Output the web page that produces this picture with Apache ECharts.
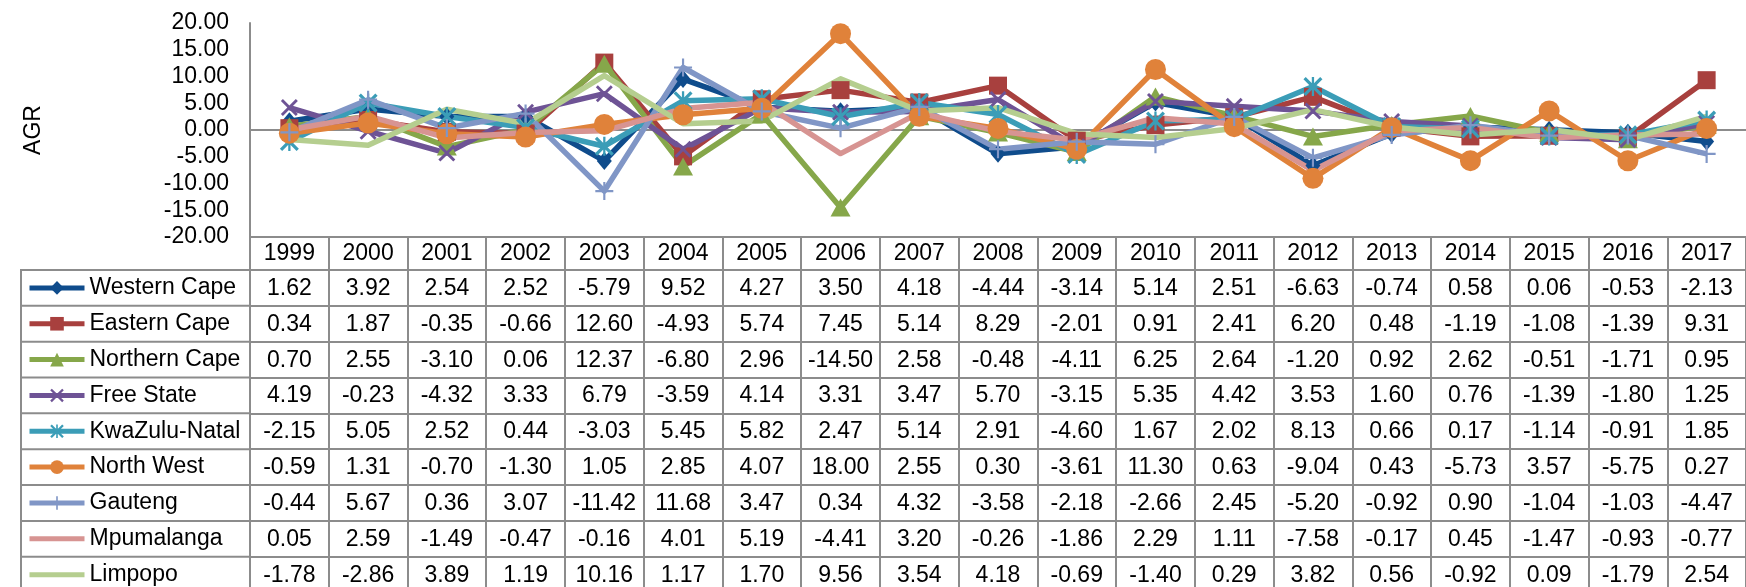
<!DOCTYPE html>
<html>
<head>
<meta charset="utf-8">
<script src="https://cdn.jsdelivr.net/npm/echarts@6/dist/echarts.min.js"></script>
<style>
html, body { margin: 0; padding: 0; background: #fff; }
#chart { width: 1746px; height: 587px; }
</style>
</head>
<body>
<div id="chart"></div>
<script>
const years = ['1999', '2000', '2001', '2002', '2003', '2004', '2005', '2006', '2007', '2008',
	'2009', '2010', '2011', '2012', '2013', '2014', '2015', '2016', '2017'];

const westernCape = [1.62, 3.92, 2.54, 2.52, -5.79, 9.52, 4.27, 3.50, 4.18, -4.44, -3.14, 5.14, 2.51, -6.63, -0.74, 0.58, 0.06, -0.53, -2.13];
const easternCape = [0.34, 1.87, -0.35, -0.66, 12.60, -4.93, 5.74, 7.45, 5.14, 8.29, -2.01, 0.91, 2.41, 6.20, 0.48, -1.19, -1.08, -1.39, 9.31];
const northernCape = [0.70, 2.55, -3.10, 0.06, 12.37, -6.80, 2.96, -14.50, 2.58, -0.48, -4.11, 6.25, 2.64, -1.20, 0.92, 2.62, -0.51, -1.71, 0.95];
const freeState = [4.19, -0.23, -4.32, 3.33, 6.79, -3.59, 4.14, 3.31, 3.47, 5.70, -3.15, 5.35, 4.42, 3.53, 1.60, 0.76, -1.39, -1.80, 1.25];
const kwaZuluNatal = [-2.15, 5.05, 2.52, 0.44, -3.03, 5.45, 5.82, 2.47, 5.14, 2.91, -4.60, 1.67, 2.02, 8.13, 0.66, 0.17, -1.14, -0.91, 1.85];
const northWest = [-0.59, 1.31, -0.70, -1.30, 1.05, 2.85, 4.07, 18.00, 2.55, 0.30, -3.61, 11.30, 0.63, -9.04, 0.43, -5.73, 3.57, -5.75, 0.27];
const gauteng = [-0.44, 5.67, 0.36, 3.07, -11.42, 11.68, 3.47, 0.34, 4.32, -3.58, -2.18, -2.66, 2.45, -5.20, -0.92, 0.90, -1.04, -1.03, -4.47];
const mpumalanga = [0.05, 2.59, -1.49, -0.47, -0.16, 4.01, 5.19, -4.41, 3.20, -0.26, -1.86, 2.29, 1.11, -7.58, -0.17, 0.45, -1.47, -0.93, -0.77];
const limpopo = [-1.78, -2.86, 3.89, 1.19, 10.16, 1.17, 1.70, 9.56, 3.54, 4.18, -0.69, -1.40, 0.29, 3.82, 0.56, -0.92, 0.09, -1.79, 2.54];

const provinces = ['Western Cape', 'Eastern Cape', 'Northern Cape', 'Free State', 'KwaZulu-Natal',
	'North West', 'Gauteng', 'Mpumalanga', 'Limpopo'];
const provinceValues = [westernCape, easternCape, northernCape, freeState, kwaZuluNatal,
	northWest, gauteng, mpumalanga, limpopo];

const lineColors = ['#0F4C8C', '#A8403E', '#86A74A', '#6E5395', '#3B9DB7', '#E0823A', '#8096C6', '#D79492', '#B5CE8F'];

// excel-like marker shapes
const X_PATH = 'M0,1.2L1.2,0L5,3.8L8.8,0L10,1.2L6.2,5L10,8.8L8.8,10L5,6.2L1.2,10L0,8.8L3.8,5Z';
const markers = [
	{ symbol: 'diamond', size: [15, 18] },
	{ symbol: 'rect', size: 18 },
	{ symbol: 'triangle', size: [20, 18] },
	{ symbol: 'path://' + X_PATH, size: 17 },
	{ symbol: 'path://' + X_PATH + 'M4.4,0L5.6,0L5.6,10L4.4,10Z', size: 19 },
	{ symbol: 'circle', size: 21 },
	{ symbol: 'path://M4.4,0L5.6,0L5.6,4.4L10,4.4L10,5.6L5.6,5.6L5.6,10L4.4,10L4.4,5.6L0,5.6L0,4.4L4.4,4.4Z', size: 18 },
	{ symbol: 'none', size: 0 },
	{ symbol: 'none', size: 0 },
];

const FONT = "'Liberation Sans', Arial, sans-serif";
const FONT_SIZE = 23;
const GRAY = '#8c8c8c';
const GRID_LEFT = 250;
const GRID_TOP = 23;
const PLOT_BOTTOM = 237;
const COL_W = 79.4;
const HEAD_H = 33;
const ROW_H = 35.84;
const TABLE_LEFT = 21;
const TABLE_TOP = PLOT_BOTTOM + HEAD_H;

const lineStyle = { color: GRAY, width: 2 };

// x axes: 0 = zero line, 1 = year header, 2.. = one per table row
const xAxes = [
	{
		type: 'category',
		data: years,
		boundaryGap: true,
		axisLine: { onZero: true, lineStyle },
		axisTick: { show: false },
		axisLabel: { show: false },
	},
	{
		type: 'category',
		data: years,
		position: 'bottom',
		offset: 0,
		axisLine: { onZero: false, lineStyle },
		axisTick: { show: true, interval: 0, length: HEAD_H, lineStyle },
		axisLabel: { interval: 0, fontSize: FONT_SIZE, fontFamily: FONT, color: '#000', margin: 5 },
	},
];
provinceValues.forEach((vals, i) => {
	xAxes.push({
		type: 'category',
		data: years,
		position: 'bottom',
		offset: HEAD_H + i * ROW_H,
		axisLine: { onZero: false, lineStyle },
		axisTick: { show: true, interval: 0, length: ROW_H, lineStyle },
		axisLabel: {
			interval: 0,
			fontSize: FONT_SIZE,
			fontFamily: FONT,
			color: '#000',
			margin: 7,
			formatter: (v, idx) => vals[idx].toFixed(2),
		},
	});
});

const series = provinces.map((name, i) => ({
	name,
	type: 'line',
	xAxisIndex: 0,
	data: provinceValues[i],
	symbol: markers[i].symbol,
	symbolSize: markers[i].size,
	showSymbol: markers[i].symbol !== 'none',
	lineStyle: { width: 5.5, color: lineColors[i], join: 'round' },
	itemStyle: { color: lineColors[i], opacity: markers[i].symbol === 'none' ? 0 : 1 },
	emphasis: { disabled: true },
}));

// borders of the legend column of the data table
const tableLines = [];
for (let k = 0; k <= provinces.length; k += 1) {
	const y = TABLE_TOP + k * ROW_H;
	tableLines.push({ type: 'line', shape: { x1: TABLE_LEFT, y1: y, x2: GRID_LEFT, y2: y }, style: { stroke: GRAY, lineWidth: 2 } });
}
tableLines.push({ type: 'line', shape: { x1: TABLE_LEFT, y1: TABLE_TOP - 1, x2: TABLE_LEFT, y2: 600 }, style: { stroke: GRAY, lineWidth: 2 } });

const option = {
	animation: false,
	backgroundColor: '#fff',
	textStyle: { fontFamily: FONT },
	grid: {
		left: GRID_LEFT,
		top: GRID_TOP,
		width: COL_W * years.length,
		height: PLOT_BOTTOM - GRID_TOP,
		containLabel: false,
	},
	legend: {
		orient: 'vertical',
		left: 27,
		top: TABLE_TOP + ROW_H / 2 - FONT_SIZE / 2,
		padding: 0,
		itemWidth: 55,
		itemHeight: 17,
		itemGap: ROW_H - FONT_SIZE,
		selectedMode: false,
		lineStyle: { width: 5 },
		textStyle: { fontSize: FONT_SIZE, fontFamily: FONT, color: '#000', lineHeight: FONT_SIZE },
		data: provinces.map((name, i) => (markers[i].symbol === 'none'
			? { name, itemStyle: { opacity: 0 } }
			: { name })),
	},
	xAxis: xAxes,
	yAxis: {
		type: 'value',
		min: -20,
		max: 20,
		interval: 5,
		name: 'AGR',
		nameLocation: 'middle',
		nameGap: 205,
		nameTextStyle: { fontSize: FONT_SIZE, fontFamily: FONT, color: '#000' },
		axisLine: { show: true, lineStyle },
		axisTick: { show: false },
		splitLine: { show: false },
		axisLabel: {
			fontSize: FONT_SIZE,
			fontFamily: FONT,
			color: '#000',
			margin: 21,
			formatter: v => v.toFixed(2),
		},
	},
	graphic: tableLines,
	series,
};

const chart = echarts.init(document.getElementById('chart'));
chart.setOption(option);
</script>
</body>
</html>
